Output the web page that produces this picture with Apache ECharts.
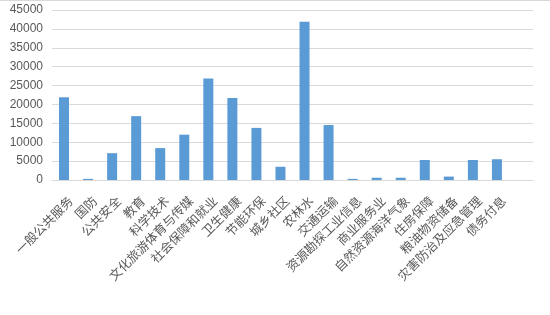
<!DOCTYPE html>
<html><head><meta charset="utf-8">
<script src="https://cdn.jsdelivr.net/npm/echarts@6/dist/echarts.min.js"></script>
<style>html,body{margin:0;padding:0;background:#fff}#c{width:550px;height:315px}</style>
</head><body><div id="c"></div>
<script>
const categories = ['一般公共服务','国防','公共安全','教育','科学技术','文化旅游体育与传媒','社会保障和就业','卫生健康','节能环保','城乡社区','农林水','交通运输','资源勘探工业信息','商业服务业','自然资源海洋气象','住房保障','粮油物资储备','灾害防治及应急管理','债务付息',''];
const values = [21900,300,7100,16900,8450,12000,26900,21700,13800,3500,41900,14550,300,600,600,5300,900,5300,5500,null];
const yTicks = {min:0,max:45000,interval:5000};

const chart = echarts.init(document.getElementById('c'));
chart.setOption({
  animation:false,
  grid:{left:52,right:17,top:10,bottom:135},
  graphic:[{type:'rect',shape:{x:0,y:0,width:550,height:1},style:{fill:'#d9d9d9'}}],
  xAxis:{type:'category',data:categories,
    axisLine:{lineStyle:{color:'#d9d9d9'}},axisTick:{show:false},
    axisLabel:{interval:0,rotate:45,color:'#595959',fontSize:12.5,margin:12,
      verticalAlign:'top',padding:[3,0,0,0],
      fontFamily:'Noto Sans CJK SC'}},
  yAxis:{type:'value',min:yTicks.min,max:yTicks.max,interval:yTicks.interval,
    axisLine:{show:false},axisTick:{show:false},
    splitLine:{lineStyle:{color:'#d9d9d9'}},
    axisLabel:{color:'#595959',fontSize:12,margin:9,fontFamily:'Liberation Sans',
      formatter:v=>String(v)}},
  series:[{type:'bar',data:values,barWidth:10,itemStyle:{color:'#5B9BD5'}}]
});
</script></body></html>
